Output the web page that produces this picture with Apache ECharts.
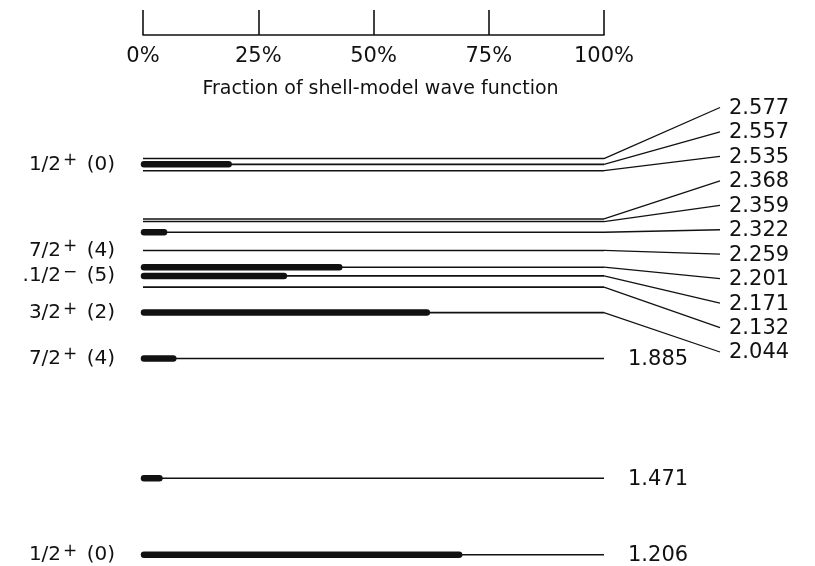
<!DOCTYPE html>
<html>
<head>
<meta charset="utf-8">
<script src="https://cdn.jsdelivr.net/npm/echarts@6/dist/echarts.min.js"></script>
<style>
html,body{margin:0;padding:0;background:#fff;}
#chart{width:815px;height:566px;}
</style>
</head>
<body>
<div id="chart"></div>
<script>
// Level energies (MeV), top to bottom
const energies = [2.577, 2.557, 2.535, 2.368, 2.359, 2.322, 2.259, 2.201, 2.171, 2.132, 2.044, 1.885, 1.471, 1.206];
// Fraction of shell-model wave function (%)
const fractions = [0, 19, 0, 0, 0, 5, 0, 43, 31, 0, 62, 7, 4, 69];
// Spin-parity (l) labels on the left
const spinMain = ['', '1/2', '', '', '', '', '7/2', '', '.1/2', '', '3/2', '7/2', '', '1/2'];
const spinParity = ['', '+', '', '', '', '', '+', '', '\u2212', '', '+', '+', '', '+'];
const spinL = ['', '(0)', '', '', '', '', '(4)', '', '(5)', '', '(2)', '(4)', '', '(0)'];
// Top axis ticks
const fracTicks = [0, 25, 50, 75, 100];
const axisTitle = 'Fraction of shell-model wave function';

const FONT = 'DejaVu Sans';
const INK = '#111';
const fanCount = 11;   // levels whose energy label sits in the right-hand column

const chart = echarts.init(document.getElementById('chart'), null, {renderer: 'canvas'});

const data = energies.map((e, i) => [fractions[i], e]);

function renderItem(params, api) {
  const i = params.dataIndex;
  const frac = api.value(0);
  const E = api.value(1);
  const p0 = api.coord([fracTicks[0], E]);
  const p1 = api.coord([fracTicks[fracTicks.length - 1], E]);
  const pf = api.coord([frac, E]);
  const children = [];
  children.push({
    type: 'line',
    shape: {x1: p0[0], y1: p0[1], x2: p1[0], y2: p1[1]},
    style: {stroke: INK, lineWidth: 1.6}
  });
  if (frac > 0) {
    children.push({
      type: 'line',
      shape: {x1: p0[0] + 1, y1: p0[1], x2: pf[0] - 2, y2: pf[1]},
      style: {stroke: INK, lineWidth: 6.5, lineCap: 'round'}
    });
  }
  const label = E.toFixed(3);
  if (i < fanCount) {
    const slotY = 107.5 + i * 24.45;
    children.push({
      type: 'line',
      shape: {x1: p1[0], y1: p1[1], x2: p1[0] + 116, y2: slotY},
      style: {stroke: INK, lineWidth: 1.3}
    });
    children.push({
      type: 'text',
      style: {x: p1[0] + 125, y: slotY + 1, text: label, font: '21px "' + FONT + '"', fill: INK, textAlign: 'left', textVerticalAlign: 'middle'}
    });
  } else {
    children.push({
      type: 'text',
      style: {x: p1[0] + 24, y: p1[1] + 1, text: label, font: '21px "' + FONT + '"', fill: INK, textAlign: 'left', textVerticalAlign: 'middle'}
    });
  }
  if (spinMain[i]) {
    children.push({
      type: 'text',
      style: {
        x: p0[0] - 28, y: p0[1] - 1,
        text: '{m|' + spinMain[i] + '}{s|' + spinParity[i] + '}{g| }{m|' + spinL[i] + '}',
        rich: {
          m: {fontFamily: FONT, fontSize: 20, fill: INK, lineHeight: 22, verticalAlign: 'bottom'},
          g: {fontFamily: FONT, fontSize: 20, fill: INK, lineHeight: 22, verticalAlign: 'bottom', padding: [0, 3, 0, 0]},
          s: {fontFamily: FONT, fontSize: 17, fill: INK, lineHeight: 14, verticalAlign: 'top', padding: [0, 0, 0, 2]}
        },
        textAlign: 'right', textVerticalAlign: 'middle'
      }
    });
  }
  return {type: 'group', children: children};
}

chart.setOption({
  backgroundColor: '#fff',
  animation: false,
  grid: {left: 143, right: 211, top: 123, bottom: 9.5},
  xAxis: {
    type: 'value', min: 0, max: 100, interval: 25,
    position: 'top', offset: 88,
    axisLine: {show: true, lineStyle: {color: INK, width: 1.6}},
    axisTick: {show: true, length: 25, inside: false, lineStyle: {color: INK, width: 1.6}},
    axisLabel: {inside: true, margin: 11, formatter: '{value}%', fontFamily: FONT, fontSize: 21, color: INK},
    splitLine: {show: false},
    name: axisTitle, nameLocation: 'middle', nameGap: -54,
    nameTextStyle: {fontFamily: FONT, fontSize: 19, color: INK, verticalAlign: 'middle', padding: [0, 0, 0, 14]}
  },
  yAxis: {type: 'value', min: 1.2, max: 2.7, show: false},
  series: [{
    type: 'custom',
    renderItem: renderItem,
    data: data,
    clip: false,
    silent: true
  }]
});
</script>
</body>
</html>
